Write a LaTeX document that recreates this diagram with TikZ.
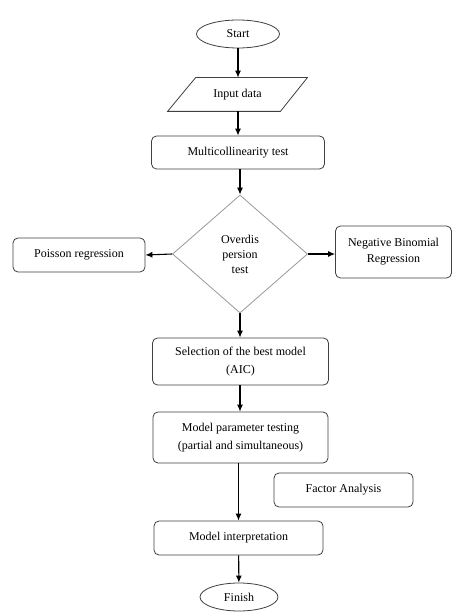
\documentclass[tikz,border=0pt]{standalone}
\usepackage{fontspec}
\setmainfont{Liberation Serif}
\usetikzlibrary{shapes.geometric,arrows.meta}
\begin{document}
\begin{tikzpicture}[x=1pt,y=-1pt,
  base/.style={draw=black!75, line width=0.8pt, align=center, inner sep=0pt,
    font=\fontsize{12}{16}\selectfont},
  box/.style={base, rounded corners=5pt},
  term/.style={base, ellipse},
  arr/.style={-{Latex[length=7pt,width=6pt]}, line width=1.1pt}]
\useasboundingbox (0,0) rectangle (453,612);
\fill[white] (0,0) rectangle (453,612);

\node[term, minimum width=83pt, minimum height=28pt] (start) at (238,34) {Start};
\node[base, draw=none, minimum width=139pt, minimum height=33pt] (input) at (237.5,94.5) {Input data};
\draw[draw=black!75, line width=0.8pt] (input.south west) -- ([xshift=-27pt]input.south east)
  -- (input.north east) -- ([xshift=28pt]input.north west) -- cycle;
\node[box, minimum width=173pt, minimum height=33pt] (multi) at (238,152.5) {Multicollinearity test};
\node[base, diamond, draw=black!40, minimum width=135pt, minimum height=118pt,
  font=\fontsize{12}{15}\selectfont] (over) at (240,254) {Overdis\\persion\\test};
\node[box, minimum width=132pt, minimum height=34pt] (pois) at (79,255) {Poisson regression};
\node[box, minimum width=116pt, minimum height=52pt] (nb) at (393.5,252) {Negative Binomial\\Regression};
\node[box, minimum width=176pt, minimum height=47pt, font=\fontsize{12}{18}\selectfont] (sel) at (240.5,361.5) {Selection of the best model\\(AIC)};
\node[box, minimum width=175pt, minimum height=51pt, font=\fontsize{12}{18}\selectfont] (param) at (240.5,437.5) {Model parameter testing\\(partial and simultaneous)};
\node[box, minimum width=139pt, minimum height=34pt] (factor) at (343.5,490) {Factor Analysis};
\node[box, minimum width=169pt, minimum height=34pt] (interp) at (238.5,538) {Model interpretation};
\node[term, minimum width=78pt, minimum height=28pt] (finish) at (239,597) {Finish};

\draw[arr] (start) -- (start |- input.north);
\draw[arr] (start |- input.south) -- (start |- multi.north);
\draw[arr] (multi.south -| over.north) -- (over.north);
\draw[arr] (over.west) -- (pois.east);
\draw[arr] (over.east) -- (nb.west |- over.east);
\draw[arr] (over.south) -- (sel.north -| over.south);
\draw[arr] (sel.south -| over.south) -- (param.north -| over.south);
\draw[arr] (param.south -| interp.north) -- (interp.north);
\draw[arr] (interp) -- (finish);
\end{tikzpicture}
\end{document}
